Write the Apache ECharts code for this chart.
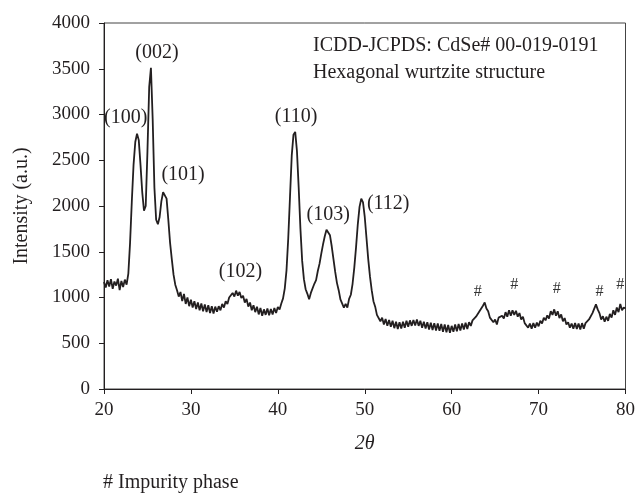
<!DOCTYPE html>
<html>
<head>
<meta charset="utf-8">
<script src="https://cdn.jsdelivr.net/npm/echarts@6/dist/echarts.min.js"></script>
<style>
  html, body { margin: 0; padding: 0; background: #fff; }
  #chart { width: 638px; height: 495px; }
</style>
</head>
<body>
<div id="chart"></div>
<script>
// XRD pattern, read every 0.2 deg from 20 to 80 (2theta), one row per degree
const angleStart = 20;
const angleStep = 0.2;
const intensity = [
  1170, 1110, 1190, 1120, 1200,
  1095, 1175, 1130, 1205, 1080,
  1180, 1115, 1195, 1140, 1260,
  1600, 2050, 2450, 2700, 2790,
  2720, 2450, 2150, 1950, 2000,
  2600, 3300, 3510, 2950, 2200,
  1850, 1800, 1880, 2050, 2150,
  2160, 2080, 1850, 1600, 1420,
  1250, 1140, 1080, 1010, 1060,
  960, 1040, 930, 1000, 905,
  975, 890, 960, 875, 945,
  860, 935, 850, 925, 840,
  915, 830, 905, 825, 900,
  845, 905, 860, 930, 890,
  960, 930, 1000, 980, 1050,
  1010, 1075, 1020, 1060, 995,
  1020, 945, 985, 900, 945,
  860, 915, 840, 900, 815,
  885, 800, 870, 810, 880,
  805, 875, 815, 885, 830,
  895, 870, 935, 990, 1100,
  1300, 1650, 2100, 2550, 2780,
  2810, 2600, 2200, 1750, 1400,
  1200, 1090, 1040, 980, 1050,
  1060, 1150, 1190, 1290, 1370,
  1480, 1580, 1670, 1740, 1750,
  1680, 1560, 1420, 1280, 1160,
  1080, 980, 970, 890, 930,
  890, 985, 1030, 1150, 1330,
  1550, 1800, 1990, 2080, 2040,
  1880, 1650, 1420, 1230, 1080,
  960, 900, 810, 800, 740,
  780, 705, 765, 690, 755,
  680, 745, 665, 735, 655,
  730, 660, 735, 670, 745,
  680, 750, 690, 755, 695,
  760, 690, 745, 670, 735,
  660, 730, 650, 725, 645,
  720, 640, 715, 635, 710,
  625, 705, 620, 700, 615,
  690, 625, 705, 630, 710,
  640, 715, 650, 725, 655,
  730, 690, 750, 740, 790,
  780, 850, 840, 910, 945,
  880, 850, 780, 790, 730,
  760, 705, 780, 760, 800,
  770, 840, 790, 860, 800,
  860, 810, 855, 790, 830,
  760, 790, 720, 730, 670,
  715, 660, 720, 670, 725,
  685, 745, 715, 780, 750,
  805, 770, 850, 810, 870,
  800, 850, 775, 815, 740,
  775, 705, 730, 670, 715,
  660, 720, 655, 715, 650,
  720, 660, 720, 700, 760,
  770, 830, 850, 925, 870,
  830, 760, 795, 735, 790,
  745, 820, 780, 860, 810,
  890, 840, 930, 860, 890,
  880
];

// peak labels: [2theta, intensity, text]
const peakLabels = [
  [22.5, 2960, "(100)"],
  [26.1, 3670, "(002)"],
  [29.1, 2340, "(101)"],
  [35.7, 1280, "(102)"],
  [42.1, 2970, "(110)"],
  [45.8, 1900, "(103)"],
  [52.7, 2030, "(112)"]
];
// impurity marks (#)
const impurityMarks = [
  [63.0, 1060],
  [67.2, 1140],
  [72.1, 1100],
  [77.0, 1060],
  [79.4, 1140]
];

const xTicks = [20, 80, 10];
const yTicks = [0, 4000, 500];

const serif = "Liberation Serif";
const ink = "#231f20";

const pattern = intensity.map((v, i) => [+(angleStart + i * angleStep).toFixed(1), v]);

const chart = echarts.init(document.getElementById("chart"));
chart.setOption({
  animation: false,
  grid: {
    left: 104,
    right: 11,
    top: 23,
    bottom: 106,
    show: true,
    borderColor: "#444",
    borderWidth: 1
  },
  xAxis: {
    type: "value",
    min: xTicks[0],
    max: xTicks[1],
    interval: xTicks[2],
    name: "2θ",
    nameLocation: "middle",
    nameGap: 45,
    nameTextStyle: { fontFamily: serif, fontSize: 20, fontStyle: "italic", color: ink },
    axisLine: { lineStyle: { color: ink, width: 1 } },
    axisTick: { show: true, length: 5, lineStyle: { color: ink } },
    axisLabel: { fontFamily: serif, fontSize: 19, color: ink, margin: 12 },
    splitLine: { show: false }
  },
  yAxis: {
    type: "value",
    min: yTicks[0],
    max: yTicks[1],
    interval: yTicks[2],
    name: "Intensity (a.u.)",
    nameLocation: "middle",
    nameGap: 72,
    nameTextStyle: { fontFamily: serif, fontSize: 20, color: ink },
    axisLine: { show: true, lineStyle: { color: ink, width: 1 } },
    axisTick: { show: true, length: 5, lineStyle: { color: ink } },
    axisLabel: { fontFamily: serif, fontSize: 19, color: ink, margin: 14, formatter: v => String(v) },
    splitLine: { show: false }
  },
  graphic: [
    {
      type: "text",
      left: 313,
      top: 36,
      style: { text: "ICDD-JCPDS: CdSe# 00-019-0191", font: "20px " + serif, fill: ink }
    },
    {
      type: "text",
      left: 313,
      top: 63,
      style: { text: "Hexagonal wurtzite structure", font: "20px " + serif, fill: ink }
    },
    {
      type: "text",
      left: 103,
      top: 473,
      style: { text: "# Impurity phase", font: "20px " + serif, fill: ink }
    }
  ],
  series: [
    {
      type: "line",
      data: pattern,
      showSymbol: false,
      lineStyle: { color: ink, width: 1.8 },
      z: 3
    },
    {
      type: "scatter",
      data: peakLabels,
      symbolSize: 0,
      itemStyle: { opacity: 1 },
      label: {
        show: true,
        position: "inside",
        formatter: p => p.data[2],
        fontFamily: serif,
        fontSize: 20,
        color: ink,
        opacity: 1,
        textBorderWidth: 0
      },
      silent: true
    },
    {
      type: "scatter",
      data: impurityMarks,
      symbolSize: 0,
      itemStyle: { opacity: 1 },
      label: {
        show: true,
        position: "inside",
        formatter: "#",
        fontFamily: serif,
        fontSize: 16,
        color: "#333",
        opacity: 1,
        textBorderWidth: 0
      },
      silent: true
    }
  ]
});
</script>
</body>
</html>
